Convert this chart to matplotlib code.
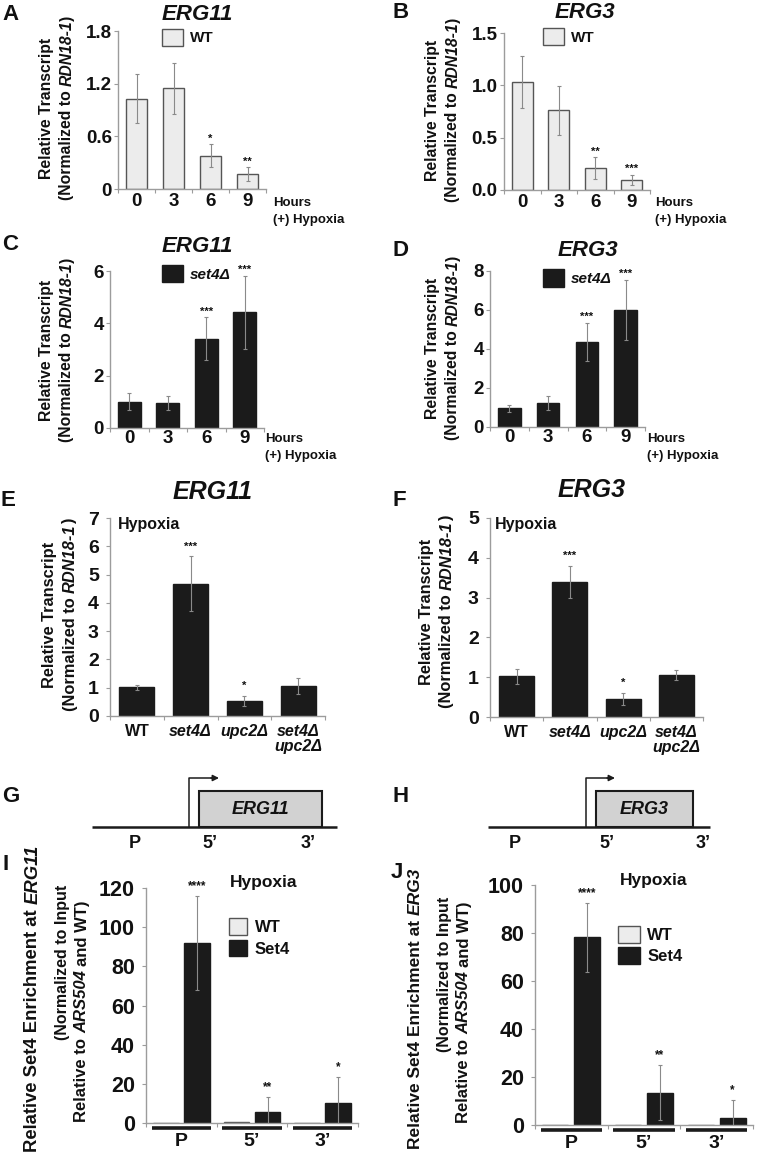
import numpy as np
import matplotlib
matplotlib.use("Agg")
import matplotlib.pyplot as plt
from matplotlib.patches import Rectangle
from matplotlib.transforms import blended_transform_factory

W, H = 757, 1156

# ---------------- data ----------------
hours = ["0", "3", "6", "9"]

erg11_wt = [1.03, 1.15, 0.38, 0.17]
erg11_wt_err = [0.28, 0.29, 0.13, 0.08]
erg11_wt_sig = ["", "", "*", "**"]

erg3_wt = [1.03, 0.76, 0.21, 0.095]
erg3_wt_err = [0.25, 0.23, 0.105, 0.05]
erg3_wt_sig = ["", "", "**", "***"]

erg11_set4 = [1.0, 0.95, 3.41, 4.42]
erg11_set4_err = [0.33, 0.28, 0.83, 1.40]
erg11_set4_sig = ["", "", "***", "***"]

erg3_set4 = [0.95, 1.23, 4.38, 6.0]
erg3_set4_err = [0.18, 0.34, 0.97, 1.56]
erg3_set4_sig = ["", "", "***", "***"]

strains = ["WT", "set4Δ", "upc2Δ", "set4Δ\nupc2Δ"]
erg11_strain = [1.01, 4.68, 0.54, 1.06]
erg11_strain_err = [0.09, 0.97, 0.18, 0.27]
erg11_strain_sig = ["", "***", "*", ""]
erg3_strain = [1.02, 3.40, 0.45, 1.05]
erg3_strain_err = [0.18, 0.40, 0.16, 0.12]
erg3_strain_sig = ["", "***", "*", ""]

regions = ["P", "5’", "3’"]
erg11_chip_wt = [0.1, 0.3, 0.1]
erg11_chip_set4 = [91.8, 5.6, 10.3]
erg11_chip_err = [24.0, 7.7, 13.0]
erg11_chip_sig = ["****", "**", "*"]
erg3_chip_wt = [0.1, 0.1, 0.1]
erg3_chip_set4 = [78.2, 13.5, 3.1]
erg3_chip_err = [14.4, 11.5, 7.3]
erg3_chip_sig = ["****", "**", "*"]

# ---------------- style ----------------
SANS = "Liberation Sans"
plt.rcParams["font.family"] = SANS
plt.rcParams["font.weight"] = "bold"
plt.rcParams["text.color"] = "#111111"
plt.rcParams["xtick.color"] = "#111111"
plt.rcParams["ytick.color"] = "#111111"

GRID = "#9c9c9c"
LIGHT = "#ececec"
DARK = "#1b1b1b"
ERR = "#8a8a8a"

fig = plt.figure(figsize=(W / 100, H / 100), dpi=100, facecolor="white")
canvas = fig.add_axes([0, 0, 1, 1])
canvas.set_xlim(0, W)
canvas.set_ylim(H, 0)
canvas.axis("off")
renderer = fig.canvas.get_renderer()


def px_axes(l, t, r, b):
    return fig.add_axes([l / W, 1 - b / H, (r - l) / W, (b - t) / H])


def text_len(s, size, italic):
    t = canvas.text(0, 0, s + "|", fontsize=size, fontweight="bold",
                    style="italic" if italic else "normal")
    w1 = t.get_window_extent(renderer).width
    t.set_text("|")
    w2 = t.get_window_extent(renderer).width
    t.remove()
    return w1 - w2


def vtext(x, yc, parts, size):
    # rotated label built from plain / italic pieces, centred on (x, yc)
    lens = [text_len(s, size, it) for s, it in parts]
    y = yc + sum(lens) / 2
    for (s, it), L in zip(parts, lens):
        canvas.text(x, y, s.rstrip(), fontsize=size, fontweight="bold",
                    style="italic" if it else "normal", rotation=90,
                    ha="center", va="bottom")
        y -= L


def style_axes(ax, n, yticks, ylabels, ysize, ypad):
    for s in ("top", "right"):
        ax.spines[s].set_visible(False)
    for s in ("left", "bottom"):
        ax.spines[s].set_color(GRID)
        ax.spines[s].set_linewidth(1.0)
    ax.set_yticks(yticks, ylabels, fontsize=ysize, fontweight="bold")
    ax.set_xticks(np.arange(n + 1) - 0.5, minor=True)
    ax.tick_params(axis="y", length=3, width=0.8, color=GRID, pad=ypad)
    ax.tick_params(axis="x", which="minor", length=3, width=0.8, color=GRID)
    ax.tick_params(axis="x", which="major", length=0)
    ax.set_facecolor("none")


def stars(ax, xs, vals, errs, sig, off, size=8):
    for xi, v, e, s in zip(xs, vals, errs, sig):
        if s:
            ax.annotate(s, (xi, v + e), xytext=(0, off), textcoords="offset points",
                        ha="center", va="center", fontsize=size, annotation_clip=False)


def bar_panel(rect, cats, vals, errs, sig, ymax, yticks, ylabels, fc, ec, bw,
              ysize=13.5, ypad=1.5, xsize=13.5, xpad=3, star_off=4):
    ax = px_axes(*rect)
    x = np.arange(len(cats))
    bars = ax.bar(x, vals, width=bw, color=fc, edgecolor=ec, linewidth=1.0, zorder=2)
    ax.errorbar(x, vals, yerr=errs, fmt="none", ecolor=ERR, elinewidth=0.8,
                capsize=1.6, capthick=0.8, zorder=3)
    stars(ax, x, vals, errs, sig, star_off)
    ax.set_xlim(-0.5, len(cats) - 0.5)
    ax.set_ylim(0, ymax)
    style_axes(ax, len(cats), yticks, ylabels, ysize, ypad)
    ax.set_xticks(x, cats, fontsize=xsize, fontweight="bold")
    ax.tick_params(axis="x", which="major", pad=xpad)
    return ax, bars


def box_legend(ax, handles, labels, x, y, size, hl, hh, italic=False, spacing=0.3):
    ax.legend(handles, labels, loc="upper left", bbox_to_anchor=(x / W, 1 - y / H),
              bbox_transform=fig.transFigure, frameon=False, borderpad=0,
              borderaxespad=0, handlelength=hl, handleheight=hh, handletextpad=0.45,
              labelspacing=spacing,
              prop={"weight": "bold", "size": size, "family": SANS,
                    "style": "italic" if italic else "normal"})


def chip_panel(rect, wt, set4, err, sig, ymax, yticks):
    ax = px_axes(*rect)
    g = np.arange(len(regions))
    off, bw = 0.22, 0.36
    b_wt = ax.bar(g - off, wt, bw, color=LIGHT, edgecolor="#555555", linewidth=1.0, zorder=2)
    b_s4 = ax.bar(g + off, set4, bw, color=DARK, edgecolor=DARK, linewidth=1.0, zorder=2)
    ax.errorbar(g + off, set4, yerr=err, fmt="none", ecolor=ERR, elinewidth=0.8,
                capsize=1.6, capthick=0.8, zorder=3)
    stars(ax, g + off, set4, err, sig, 7, size=8.5)
    ax.set_xlim(-0.5, len(regions) - 0.5)
    ax.set_ylim(0, ymax)
    style_axes(ax, len(regions), yticks, [str(t) for t in yticks], 15.5, 5)
    ax.set_xticks(g, regions, fontsize=14, fontweight="bold")
    ax.tick_params(axis="x", which="major", pad=7)
    trans = blended_transform_factory(ax.transData, ax.transAxes)
    for gi in g:
        ax.plot([gi - 0.42, gi + 0.42], [-0.022, -0.022], transform=trans, color=DARK,
                lw=2.6, solid_capstyle="butt", clip_on=False)
    return ax, b_wt, b_s4


def gene_map(x0, x1, tss, box_l, box_r, arrow_end, name, label_x):
    y_base, box_top, arrow_top = 827, 791, 778
    canvas.plot([x0, x1], [y_base, y_base], color=DARK, lw=1.8, solid_capstyle="butt")
    canvas.add_patch(Rectangle((box_l, box_top), box_r - box_l, y_base - box_top,
                               facecolor="#d2d2d2", edgecolor=DARK, lw=1.5))
    canvas.plot([tss, tss, arrow_end - 5], [y_base, arrow_top, arrow_top], color=DARK, lw=1.1)
    canvas.annotate("", xy=(arrow_end, arrow_top), xytext=(arrow_end - 8, arrow_top),
                    arrowprops=dict(arrowstyle="-|>", color=DARK, lw=1.1, mutation_scale=9,
                                    shrinkA=0, shrinkB=0))
    canvas.text((box_l + box_r) / 2, (box_top + y_base) / 2 + 1, name, fontsize=13,
                style="italic", ha="center", va="center")
    for lab, lx in zip(regions, label_x):
        canvas.text(lx, 843, lab, fontsize=13, ha="center", va="center")


# ---------------- panels A-D ----------------
axA, barsA = bar_panel((118, 31, 266, 189), hours, erg11_wt, erg11_wt_err, erg11_wt_sig,
                       1.8, [0, 0.6, 1.2, 1.8], ["0", "0.6", "1.2", "1.8"], LIGHT, "#555555", 0.57)
axB, barsB = bar_panel((504, 33, 650, 190), hours, erg3_wt, erg3_wt_err, erg3_wt_sig,
                       1.5, [0, 0.5, 1.0, 1.5], ["0.0", "0.5", "1.0", "1.5"], LIGHT, "#555555", 0.57)
axC, barsC = bar_panel((110, 271, 264, 428), hours, erg11_set4, erg11_set4_err, erg11_set4_sig,
                       6, [0, 2, 4, 6], ["0", "2", "4", "6"], DARK, DARK, 0.6, xpad=1.5)
axD, barsD = bar_panel((490, 271, 645, 427), hours, erg3_set4, erg3_set4_err, erg3_set4_sig,
                       8, [0, 2, 4, 6, 8], ["0", "2", "4", "6", "8"], DARK, DARK, 0.58, xpad=1.5)

box_legend(axA, [barsA], ["WT"], 162, 29, 11, 1.35, 1.3)
box_legend(axB, [barsB], ["WT"], 543, 28, 11, 1.35, 1.35)
box_legend(axC, [barsC], ["set4Δ"], 162, 265, 11, 1.35, 1.35, italic=True)
box_legend(axD, [barsD], ["set4Δ"], 543, 269, 11, 1.35, 1.4, italic=True)

for x, y, s in [(197, 15, "ERG11"), (585, 13, "ERG3"), (197, 247, "ERG11"), (588, 250, "ERG3")]:
    canvas.text(x, y, s, fontsize=16, style="italic", ha="center", va="center")

for x, y in [(273, 203), (655, 203), (265, 439), (647, 439)]:
    canvas.text(x, y, "Hours", fontsize=9.5, ha="left", va="center")
    canvas.text(x, y + 17, "(+) Hypoxia", fontsize=9.5, ha="left", va="center")

transcript = [("(Normalized to ", False), ("RDN18-1", True), (")", False)]
for x, yc in [(47, 108), (433, 110), (47, 350), (433, 348)]:
    vtext(x, yc, [("Relative Transcript", False)], 11.3)
    vtext(x + 20, yc, transcript, 11.3)

# ---------------- panels E-F ----------------
axE, _ = bar_panel((110, 518, 325, 716), strains, erg11_strain, erg11_strain_err, erg11_strain_sig,
                   7, list(range(8)), [str(i) for i in range(8)], DARK, DARK, 0.65,
                   ysize=14, ypad=5, xsize=11.5, xpad=6, star_off=7)
axF, _ = bar_panel((490, 518, 703, 717), strains, erg3_strain, erg3_strain_err, erg3_strain_sig,
                   5, list(range(6)), [str(i) for i in range(6)], DARK, DARK, 0.66,
                   ysize=14, ypad=5, xsize=11.5, xpad=6, star_off=7)
for ax in (axE, axF):
    for i, lab in enumerate(ax.get_xticklabels()):
        if i > 0:
            lab.set_fontstyle("italic")
        lab.set_linespacing(0.95)

canvas.text(213, 492, "ERG11", fontsize=18, style="italic", ha="center", va="center")
canvas.text(592, 490, "ERG3", fontsize=18, style="italic", ha="center", va="center")
canvas.text(118, 524, "Hypoxia", fontsize=11.5, ha="left", va="center")
canvas.text(495, 524, "Hypoxia", fontsize=11.5, ha="left", va="center")
for x, yc in [(50, 615), (427, 612)]:
    vtext(x, yc, [("Relative Transcript", False)], 11.8)
    vtext(x + 20, yc, transcript, 11.8)

# ---------------- panels G-H ----------------
gene_map(92, 337, 189, 199, 322, 219, "ERG11", [135, 210, 308])
gene_map(488, 710, 586, 596, 693, 615, "ERG3", [515, 607, 703])

# ---------------- panels I-J ----------------
axI, iwt, is4 = chip_panel((146, 888, 358, 1123), erg11_chip_wt, erg11_chip_set4, erg11_chip_err,
                           erg11_chip_sig, 120, [0, 20, 40, 60, 80, 100, 120])
axJ, jwt, js4 = chip_panel((535, 885, 753, 1125), erg3_chip_wt, erg3_chip_set4, erg3_chip_err,
                           erg3_chip_sig, 100, [0, 20, 40, 60, 80, 100])
box_legend(axI, [iwt, is4], ["WT", "Set4"], 229, 918, 12, 1.1, 1.15, spacing=0.3)
box_legend(axJ, [jwt, js4], ["WT", "Set4"], 618, 926, 12, 1.3, 1.15, spacing=0.25)
canvas.text(230, 882, "Hypoxia", fontsize=12.5, ha="left", va="center")
canvas.text(620, 880, "Hypoxia", fontsize=12.5, ha="left", va="center")

for x0, gene, size1, (c1, c2, c3) in [(33, "ERG11", 13.3, (998, 962, 1011)),
                                      (415, "ERG3", 12.5, (1008, 974, 1012))]:
    vtext(x0, c1, [("Relative Set4 Enrichment at ", False), (gene, True)], size1)
    vtext(x0 + 29, c2, [("(Normalized to Input", False)], 11.5)
    vtext(x0 + 49, c3, [("Relative to ", False), ("ARS504 ", True), ("and WT)", False)], 12)

# ---------------- panel letters ----------------
for x, y, s in [(2, 15, "A"), (393, 12, "B"), (2, 244, "C"), (393, 250, "D"),
                (0, 500, "E"), (393, 500, "F"), (2, 796, "G"), (393, 796, "H"),
                (2, 865, "I"), (391, 872, "J")]:
    canvas.text(x, y, s, fontsize=16, ha="left", va="center")

fig.savefig("out.png", dpi=100, facecolor="white")
